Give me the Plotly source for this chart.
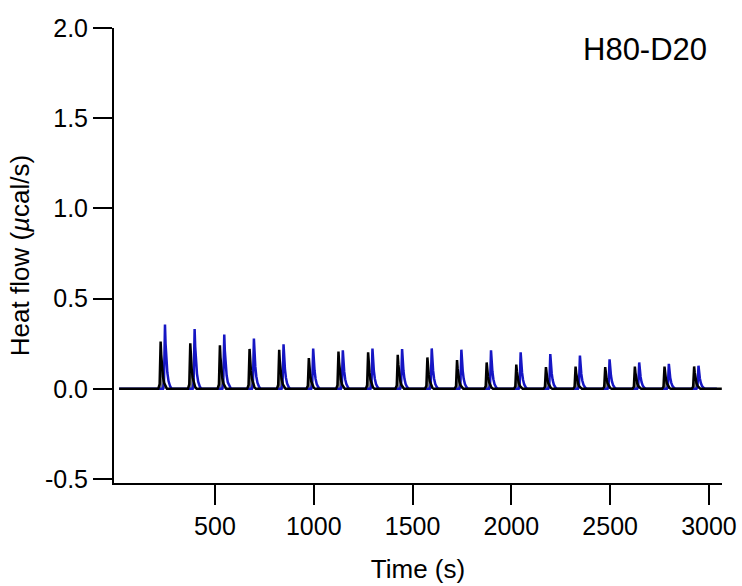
import plotly.graph_objects as go

# Injection times (s) and peak heights (µcal/s) for the two thermograms
injection_times = [225, 375, 525, 675, 825, 975, 1125, 1275, 1425, 1575,
                   1725, 1875, 2025, 2175, 2325, 2475, 2625, 2775, 2925]
black_peaks = [0.262, 0.252, 0.241, 0.221, 0.216, 0.170, 0.206, 0.202, 0.188, 0.174,
               0.159, 0.146, 0.134, 0.120, 0.123, 0.120, 0.123, 0.123, 0.124]
blue_peaks = [0.357, 0.332, 0.301, 0.279, 0.247, 0.223, 0.214, 0.223, 0.220, 0.224,
              0.217, 0.213, 0.202, 0.193, 0.184, 0.164, 0.146, 0.138, 0.128]

# Normalised shape of a single injection peak (offset from injection in s, fraction of peak)
black_offsets = [-12, -5, 0, 3, 7, 12, 18, 25, 32]
black_shape = [0.0, 0.10, 1.0, 0.72, 0.45, 0.25, 0.12, 0.04, 0.0]
blue_offsets = [12, 17, 22, 25, 29, 34, 40, 48, 56]
blue_shape = [0.0, 0.10, 1.0, 0.70, 0.45, 0.25, 0.12, 0.04, 0.0]

t_start, t_end_black, t_end_blue = 15, 3065, 3040


def build_trace(heights, offsets, shape, t_end):
    xs, ys = [t_start], [0.0]
    for t0, h in zip(injection_times, heights):
        for dt, f in zip(offsets, shape):
            xs.append(t0 + dt)
            ys.append(h * f)
    xs.append(t_end)
    ys.append(0.0)
    return xs, ys


bx, by = build_trace(black_peaks, black_offsets, black_shape, t_end_black)
ux, uy = build_trace(blue_peaks, blue_offsets, blue_shape, t_end_blue)

fig = go.Figure()
# grey area under the black thermogram
fig.add_trace(go.Scatter(x=bx, y=by, mode="lines", line=dict(width=0, color="rgba(0,0,0,0)"),
                         fill="tozeroy", fillcolor="rgba(110,110,110,0.9)",
                         hoverinfo="skip", showlegend=False))
fig.add_trace(go.Scatter(x=ux, y=uy, mode="lines", line=dict(color="#1616c4", width=2.5),
                         showlegend=False))
fig.add_trace(go.Scatter(x=bx, y=by, mode="lines", line=dict(color="black", width=2.5),
                         showlegend=False))

font = "Liberation Sans, Arial, Helvetica, sans-serif"

fig.update_layout(
    width=742, height=586,
    margin=dict(l=114, r=20, t=28, b=103),
    paper_bgcolor="white", plot_bgcolor="white",
    font=dict(family=font, size=25, color="black"),
    annotations=[dict(text="H80-D20", x=0.978, y=0.952, xref="paper", yref="paper",
                      xanchor="right", yanchor="middle", showarrow=False,
                      font=dict(size=31, family=font, color="black"))],
)
fig.update_xaxes(range=[-11, 3066], tickvals=[500, 1000, 1500, 2000, 2500, 3000],
                 showline=True, linecolor="black", linewidth=2,
                 ticks="outside", ticklen=20, tickwidth=2, tickcolor="black",
                 tickfont=dict(size=25), automargin=False,
                 showgrid=False, zeroline=False,
                 title=dict(text="Time (s)", standoff=21, font=dict(size=26)))
fig.update_yaxes(range=[-0.522, 2.0], tickvals=[-0.5, 0.0, 0.5, 1.0, 1.5, 2.0],
                 ticktext=["-0.5", "0.0", "0.5", "1.0", "1.5", "2.0"],
                 showline=True, linecolor="black", linewidth=2,
                 ticks="outside", ticklen=19, tickwidth=2, tickcolor="black",
                 tickfont=dict(size=25), automargin=False,
                 showgrid=False, zeroline=False,
                 title=dict(text="Heat flow (<i>µ</i>cal/s)", standoff=8, font=dict(size=26)))

fig.write_html("out.html")
